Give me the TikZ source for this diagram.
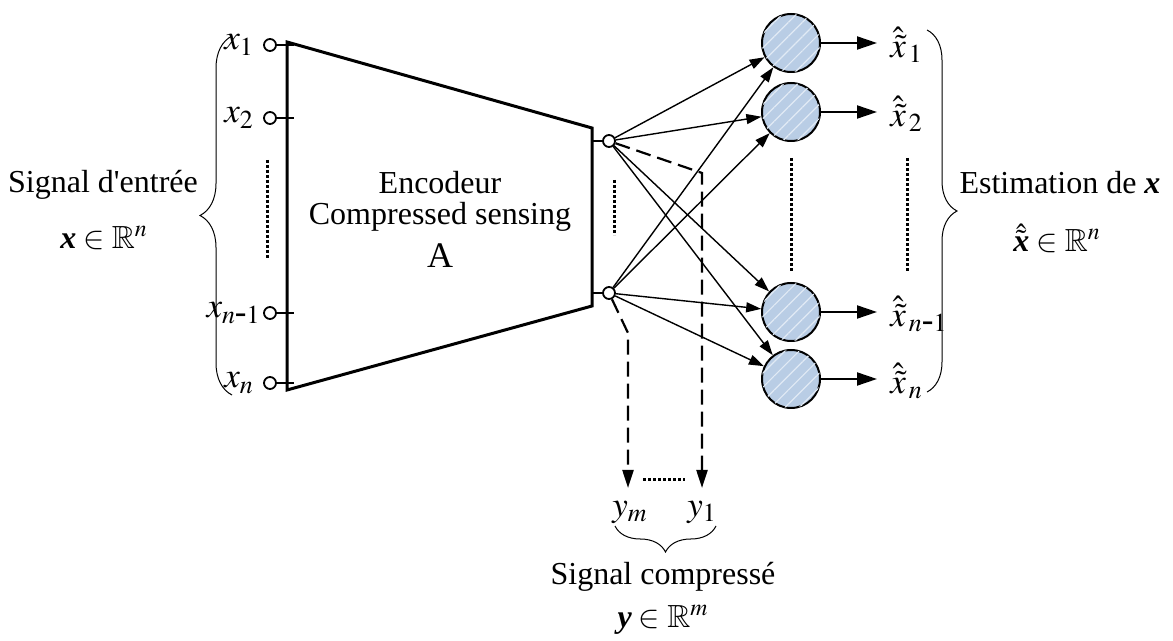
\documentclass[tikz,border=0pt]{standalone}
\usepackage{amssymb}
\usepackage{mathptmx}
\usepackage{fontspec}
\setmainfont{Liberation Serif}
\usetikzlibrary{arrows.meta,decorations.pathreplacing,patterns.meta}
\definecolor{nblue}{RGB}{185,205,229}
\definecolor{nstripe}{RGB}{225,234,245}
\newcommand{\bx}{\mbox{\bfseries\itshape x}}
\newcommand{\by}{\mbox{\bfseries\itshape y}}
\newcommand{\hy}{\mbox{-}}
\begin{document}
\begin{tikzpicture}[x=0.5pt,y=-0.5pt,
  font=\fontsize{16}{19}\selectfont,
  port/.style={circle,draw,line width=0.9pt,fill=white,inner sep=0pt,minimum size=6pt},
  neuron/.style={circle,draw,line width=1pt,fill=nblue,inner sep=0pt,minimum size=29pt,
    postaction={pattern={Lines[angle=45,distance=5pt,line width=0.6pt]},pattern color=nstripe}},
  wire/.style={line width=0.7pt,-{Triangle[length=7.5pt,width=5pt]}},
  outarrow/.style={line width=1pt,-{Triangle[length=10pt,width=6.5pt]}},
  dashline/.style={line width=1.1pt,dash pattern=on 7.5pt off 3.5pt,-{Triangle[length=9pt,width=5.5pt]}},
  dotline/.style={line width=1.5pt,dash pattern=on 1.4pt off 1.1pt},
  bracestyle/.style={line width=0.5pt,decorate},
  lbl/.style={inner sep=0pt},
  mlbl/.style={inner sep=0pt,font=\fontsize{17.5}{20}\selectfont}]
\useasboundingbox (0,0) rectangle (1173,641);

% encoder block
\draw[line width=1.5pt] (287,42) -- (592,128) -- (592,306) -- (287,390) -- cycle;
\node[lbl] (enc1) at (440,183) {Encodeur};
\node[lbl] (enc2) at (440,217) {Compressed sensing};
\node[lbl] (encA) at (440,256) {\fontsize{18}{21}\selectfont A};

% input ports
\node[port] (i1) at (270,45) {};
\node[port] (i2) at (270,118) {};
\node[port] (i3) at (270,313) {};
\node[port] (i4) at (270,383) {};
\foreach \p in {i1,i2,i3,i4} \draw[line width=1.2pt] (\p.east) -- ++(17,0);
\draw[dotline] (267,160) -- (267,258);

\node[mlbl] (lx1) at (239,45) {$x_1$};
\node[mlbl] (lx2) at (239,118) {$x_2$};
\node[mlbl,anchor=east] (lx3) at (261,313) {$x_{n\hy1}$};
\node[mlbl] (lx4) at (239,383) {$x_n$};

% input brace and label
\draw[bracestyle,decoration={brace,amplitude=16pt}] (232,395) -- (232,36);
\node[lbl] (sin) at (103,185) {Signal d\textquotesingle entrée};
\node[lbl] (xin) at (104,238) {$\bx\in\mathbb{R}^n$};

% encoder outputs
\node[port] (o1) at (609,141) {};
\node[port] (o2) at (609,293) {};
\draw[line width=1.2pt] (592,141) -- (o1.west);
\draw[line width=1.2pt] (592,293) -- (o2.west);
\draw[dotline] (614,180) -- (614,235);

% decoder neurons
\node[neuron] (n1) at (791,43) {};
\node[neuron] (n2) at (791,112) {};
\node[neuron] (n3) at (791,312) {};
\node[neuron] (n4) at (791,379) {};
\foreach \s in {o1,o2}
  \foreach \t in {n1,n2,n3,n4}
    \draw[wire] (\s) -- (\t);
\draw[dotline] (791,158) -- (791,272);

% neuron outputs
\coordinate (e1) at (877,43);
\coordinate (e2) at (877,112);
\coordinate (e3) at (877,312);
\coordinate (e4) at (877,379);
\draw[outarrow] (n1) -- (e1);
\draw[outarrow] (n2) -- (e2);
\draw[outarrow] (n3) -- (e3);
\draw[outarrow] (n4) -- (e4);
\node[mlbl,anchor=west] (h1) at (890,45) {$\hat{\tilde{x}}_{\,1}$};
\node[mlbl,anchor=west] (h2) at (890,114) {$\hat{\tilde{x}}_{\,2}$};
\node[mlbl,anchor=west] (h3) at (890,314) {$\hat{\tilde{x}}_{\,n\hy1}$};
\node[mlbl,anchor=west] (h4) at (890,381) {$\hat{\tilde{x}}_{\,n}$};
\draw[dotline] (907,158) -- (907,272);

% output brace and label
\draw[bracestyle,decoration={brace,amplitude=15pt}] (927,30) -- (927,392);
\node[lbl] (sout) at (1060,183) {Estimation de \bx};
\node[lbl] (xout) at (1057,238) {$\hat{\tilde{\bx}}\in\mathbb{R}^n$};

% compressed measurements
\coordinate (c1) at (702,173);
\coordinate (c2) at (628,333);
\coordinate (t1) at (702,488);
\coordinate (t2) at (628,488);
\draw[dashline] (o1) -- (c1) -- (t1);
\draw[dashline] (o2) -- (c2) -- (t2);
\draw[dotline] (643,480) -- (685,480);
\node[mlbl] (ym) at (630,512) {$y_m$};
\node[mlbl] (y1) at (702,512) {$y_1$};
\draw[bracestyle,decoration={brace,amplitude=13pt}] (716,526) -- (615,526);
\node[lbl] (scomp) at (663,577) {Signal compressé};
\node[lbl] (yc) at (663,620) {$\by\in\mathbb{R}^m$};
\end{tikzpicture}
\end{document}
